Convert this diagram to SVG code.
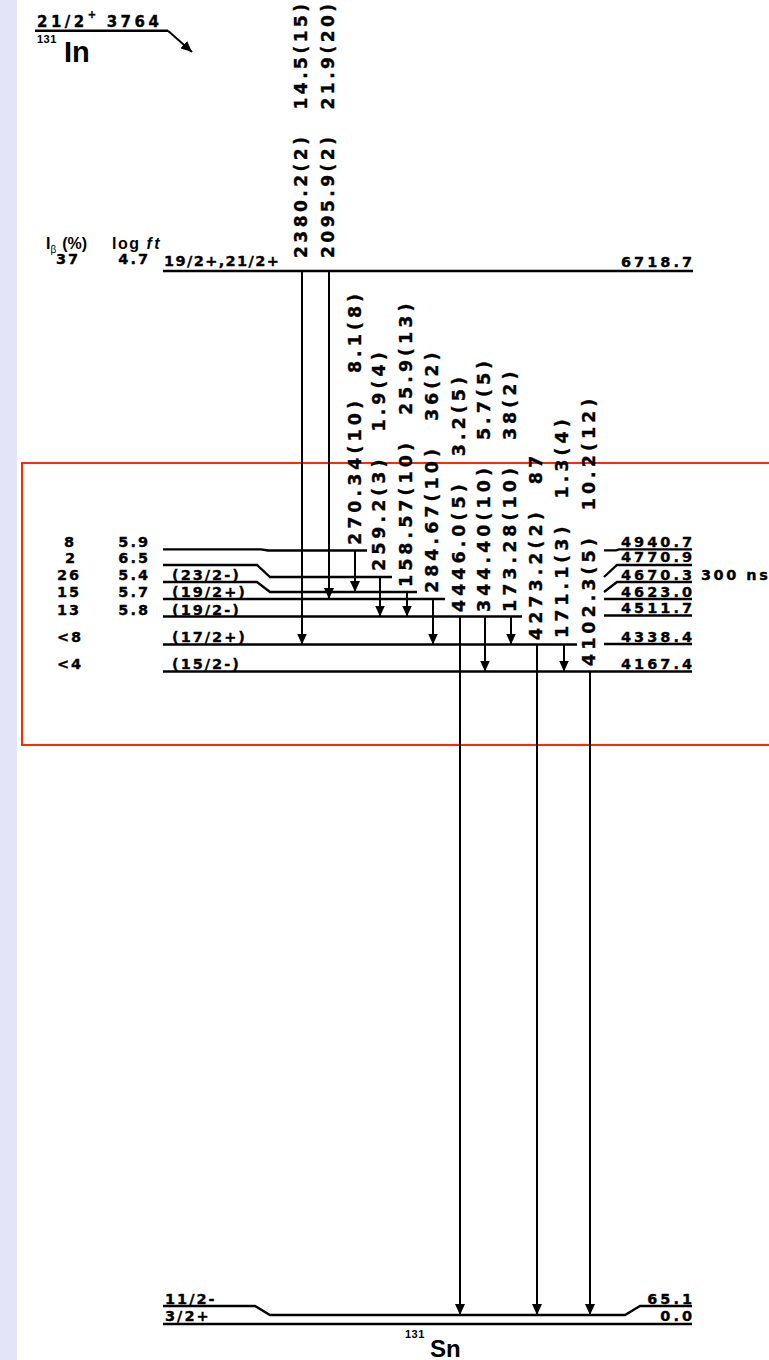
<svg xmlns="http://www.w3.org/2000/svg" width="769" height="1360" viewBox="0 0 769 1360">
<defs>
<style>
.t{font-family:"DejaVu Sans","Liberation Sans",sans-serif;font-weight:bold;font-size:14.5px;letter-spacing:2px;fill:#000;stroke:#000;stroke-width:0.35px}
.r{letter-spacing:3px}
.v{font-family:"DejaVu Sans","Liberation Sans",sans-serif;font-weight:bold;font-size:17px;letter-spacing:3.5px;fill:#000;stroke:#000;stroke-width:0.35px}
.v2{font-size:17.5px;letter-spacing:4px}
.h{font-family:"Liberation Sans",Arial,sans-serif;font-weight:bold;fill:#000}
.lv{fill:none;stroke:#000;stroke-width:2.3}
.tr{stroke:#000;stroke-width:2;marker-end:url(#ah)}
.e{text-anchor:end}
.m{text-anchor:middle}
</style>
<marker id="ah" markerWidth="11" markerHeight="10" refX="11" refY="5" orient="auto" markerUnits="userSpaceOnUse"><path d="M0,0 L11,5 L0,10 z" fill="#000"/></marker>
</defs>
<rect width="769" height="1360" fill="#fff"/>
<rect width="17" height="1360" fill="#e4e4f8"/>
<rect x="22" y="463" width="760" height="282" fill="none" stroke="#ff2a00" stroke-width="2"/>

<g id="parent-131In">
<text class="t" x="37" y="27" style="font-size:15px;letter-spacing:3.5px">21/2<tspan dy="-9" style="font-size:10px">+</tspan><tspan dy="9" dx="7">3764</tspan></text>
<path d="M35 30.7 H168" stroke="#000" stroke-width="2.5" fill="none"/>
<line x1="168" y1="30.7" x2="192" y2="52" class="tr" stroke-width="2.4"/>
<text class="h" x="37" y="43" style="font-size:11px;letter-spacing:0.5px">131</text>
<text class="h" x="64" y="62" style="font-size:29px">In</text>
</g>

<g id="header">
<text class="h" x="46" y="248.5" style="font-size:16px">I<tspan dy="4" style="font-size:10px;font-weight:normal">β</tspan><tspan dy="-4" dx="6">(%)</tspan></text>
<text class="h" x="112" y="248.5" style="font-size:16px;letter-spacing:1.5px">log <tspan font-style="italic" style="letter-spacing:2.5px">ft</tspan></text>
</g>

<g id="level-6718.7">
<path class="lv" d="M163 271 H693"/>
<text class="t" x="164" y="266" style="letter-spacing:1.4px">19/2+,21/2+</text>
<text class="t e r" x="695" y="267">6718.7</text>
<text class="t m" x="68" y="264">37</text>
<text class="t e" x="150" y="264">4.7</text>
</g>

<g id="level-4940.7">
<path class="lv" d="M163 549.3 H261 L268 550.5 H367"/>
<path class="lv" d="M604 550.3 H616 L619 549.3 H692"/>
<text class="t m" x="70" y="546.5">8</text>
<text class="t e" x="150" y="546.5">5.9</text>
<text class="t e r" x="695" y="546.5">4940.7</text>
</g>

<g id="level-4770.9">
<path class="lv" d="M163 565 H257 L270 577 H392"/>
<path class="lv" d="M604 577 L617 565 H692"/>
<text class="t m" x="71" y="563">2</text>
<text class="t e" x="150" y="563">6.5</text>
<text class="t e r" x="695" y="561.5">4770.9</text>
</g>

<g id="level-4670.3">
<path class="lv" d="M163 582 H257 L270 592 H417"/>
<path class="lv" d="M604 592 L617 582 H692"/>
<text class="t m" x="69" y="580">26</text>
<text class="t e" x="150" y="580">5.4</text>
<text class="t" x="172" y="580">(23/2-)</text>
<text class="t e r" x="695" y="579.5">4670.3</text>
<text class="t" x="701" y="579.5" style="letter-spacing:2.5px">300 ns</text>
</g>

<g id="level-4623.0">
<path class="lv" d="M163 599 H445"/>
<path class="lv" d="M604 599 H692"/>
<text class="t m" x="69" y="597">15</text>
<text class="t e" x="150" y="597">5.7</text>
<text class="t" x="172" y="597">(19/2+)</text>
<text class="t e r" x="695" y="596.5">4623.0</text>
</g>

<g id="level-4511.7">
<path class="lv" d="M163 616.5 H522"/>
<path class="lv" d="M604 615.5 H692"/>
<text class="t m" x="69" y="614.5">13</text>
<text class="t e" x="150" y="614.5">5.8</text>
<text class="t" x="172" y="614.5">(19/2-)</text>
<text class="t e r" x="695" y="613">4511.7</text>
</g>

<g id="level-4338.4">
<path class="lv" d="M163 644.5 H577"/>
<path class="lv" d="M604 644 H692"/>
<text class="t m" x="70" y="641.5">&lt;8</text>
<text class="t" x="172" y="641.5">(17/2+)</text>
<text class="t e r" x="695" y="641.5">4338.4</text>
</g>

<g id="level-4167.4">
<path class="lv" d="M163 671.5 H692"/>
<text class="t m" x="70" y="668.5">&lt;4</text>
<text class="t" x="172" y="668.5">(15/2-)</text>
<text class="t e r" x="695" y="668.5">4167.4</text>
</g>

<g id="level-65.1">
<path class="lv" d="M163 1306 H255 L270 1315 H625 L640 1306 H692"/>
<text class="t" x="165" y="1304">11/2-</text>
<text class="t e r" x="695" y="1304">65.1</text>
</g>

<g id="level-0.0">
<path class="lv" d="M163 1324 H692"/>
<text class="t" x="165" y="1321">3/2+</text>
<text class="t e r" x="695" y="1321">0.0</text>
</g>

<g id="daughter-131Sn">
<text class="h" x="405" y="1338" style="font-size:11px;letter-spacing:0.5px">131</text>
<text class="h" x="430" y="1357" style="font-size:24px">Sn</text>
</g>

<g id="transitions">
<g><line class="tr" x1="302" y1="271" x2="302" y2="644.5"/><text class="v" transform="translate(307,258) rotate(-90)">2380.2(2)<tspan dx="24">14.5(15)</tspan></text></g>
<g><line class="tr" x1="329" y1="271" x2="329" y2="599"/><text class="v" transform="translate(334,258) rotate(-90)">2095.9(2)<tspan dx="24">21.9(20)</tspan></text></g>
<g><line class="tr" x1="355" y1="550.5" x2="355" y2="592"/><text class="v v2" transform="translate(360.5,545) rotate(-90)">270.34(10)<tspan dx="24">8.1(8)</tspan></text></g>
<g><line class="tr" x1="380" y1="577" x2="380" y2="616.5"/><text class="v v2" transform="translate(384.5,571) rotate(-90)">259.2(3)<tspan dx="24">1.9(4)</tspan></text></g>
<g><line class="tr" x1="407" y1="592" x2="407" y2="616.5"/><text class="v v2" transform="translate(412,587) rotate(-90)">158.57(10)<tspan dx="24">25.9(13)</tspan></text></g>
<g><line class="tr" x1="433" y1="599" x2="433" y2="644.5"/><text class="v v2" transform="translate(438,593) rotate(-90)">284.67(10)<tspan dx="24">36(2)</tspan></text></g>
<g><line class="tr" x1="460" y1="616.5" x2="460" y2="1315"/><text class="v v2" transform="translate(465,612) rotate(-90)">4446.0(5)<tspan dx="24">3.2(5)</tspan></text></g>
<g><line class="tr" x1="485" y1="616.5" x2="485" y2="671.5"/><text class="v v2" transform="translate(490,612) rotate(-90)">344.40(10)<tspan dx="24">5.7(5)</tspan></text></g>
<g><line class="tr" x1="511" y1="616.5" x2="511" y2="644.5"/><text class="v v2" transform="translate(515.5,612) rotate(-90)">173.28(10)<tspan dx="24">38(2)</tspan></text></g>
<g><line class="tr" x1="537" y1="644.5" x2="537" y2="1315"/><text class="v v2" transform="translate(541.5,640) rotate(-90)">4273.2(2)<tspan dx="24">87</tspan></text></g>
<g><line class="tr" x1="564" y1="644.5" x2="564" y2="671.5"/><text class="v v2" transform="translate(568,638) rotate(-90)">171.1(3)<tspan dx="24">1.3(4)</tspan></text></g>
<g><line class="tr" x1="590" y1="671.5" x2="590" y2="1315"/><text class="v v2" transform="translate(595,666) rotate(-90)">4102.3(5)<tspan dx="24">10.2(12)</tspan></text></g>
</g>
</svg>
